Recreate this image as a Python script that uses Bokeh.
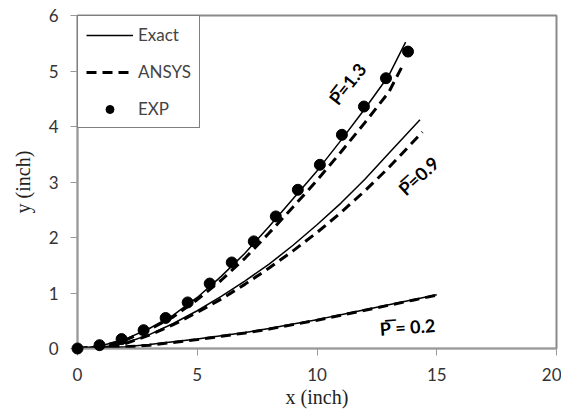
from bokeh.plotting import figure
from bokeh.models import Range1d, FixedTicker, Legend, LegendItem, Label
from bokeh.embed import file_html
from bokeh.resources import INLINE

# Exact solution curves
x_exact_13 = [0, 1, 2, 3, 4, 5, 6, 7, 8, 9, 10, 11, 12, 13, 13.7]
y_exact_13 = [0, 0.05, 0.17, 0.36, 0.6, 0.92, 1.3, 1.72, 2.2, 2.7, 3.2, 3.75, 4.32, 4.92, 5.52]
x_exact_09 = [0, 1, 2, 3, 4, 5, 6, 7, 8, 9, 10, 11, 12, 13, 14.3]
y_exact_09 = [0, 0.02, 0.1, 0.25, 0.45, 0.68, 0.94, 1.22, 1.52, 1.86, 2.23, 2.62, 3.05, 3.52, 4.12]
x_exact_02 = [0, 1, 2, 3, 4, 5, 6, 7, 8, 9, 10, 11, 12, 13, 14, 15]
y_exact_02 = [0, 0.01, 0.03, 0.07, 0.12, 0.17, 0.23, 0.29, 0.36, 0.44, 0.52, 0.61, 0.70, 0.79, 0.88, 0.97]

# ANSYS curves
x_ansys_13 = [0, 1, 2, 3, 4, 5, 6, 7, 8, 9, 10, 11, 12, 13, 13.6]
y_ansys_13 = [0, 0.04, 0.15, 0.34, 0.57, 0.88, 1.23, 1.63, 2.08, 2.55, 3.03, 3.54, 4.07, 4.62, 5.12]
x_ansys_09 = [0, 1, 2, 3, 4, 5, 6, 7, 8, 9, 10, 11, 12, 13, 14.4]
y_ansys_09 = [0, 0.02, 0.09, 0.24, 0.43, 0.65, 0.89, 1.16, 1.45, 1.76, 2.09, 2.45, 2.84, 3.26, 3.9]
x_ansys_02 = [0, 1, 2, 3, 4, 5, 6, 7, 8, 9, 10, 11, 12, 13, 14, 15]
y_ansys_02 = [0, 0.01, 0.03, 0.06, 0.11, 0.16, 0.22, 0.28, 0.35, 0.43, 0.51, 0.6, 0.69, 0.78, 0.87, 0.96]

# Experimental points (P = 1.3)
x_exp = [0, 0.92, 1.84, 2.76, 3.68, 4.6, 5.52, 6.44, 7.36, 8.28, 9.2, 10.12, 11.04, 11.96, 12.88, 13.8]
y_exp = [0, 0.06, 0.17, 0.33, 0.55, 0.83, 1.17, 1.55, 1.93, 2.38, 2.86, 3.31, 3.85, 4.36, 4.87, 5.35]

x_ticks = [0, 5, 10, 15, 20]
y_ticks = [0, 1, 2, 3, 4, 5, 6]

p = figure(width=561, height=410, output_backend="svg", toolbar_location=None,
           x_range=Range1d(0, 20), y_range=Range1d(0, 6),
           min_border_left=77, min_border_right=5, min_border_top=15, min_border_bottom=56)
p.grid.visible = False
p.outline_line_color = "#8a8a8a"
p.outline_line_width = 2

TICK_FONT = "Lato"
for ax in (p.xaxis[0], p.yaxis[0]):
    ax.axis_line_color = "#9a9a9a"
    ax.axis_line_width = 1.5
    ax.major_tick_line_color = "#9a9a9a"
    ax.major_tick_out = 7
    ax.major_tick_in = 0
    ax.minor_tick_line_color = None
    ax.major_label_text_font = TICK_FONT
    ax.major_label_text_font_size = "17px"
    ax.major_label_text_color = "#333333"
    ax.major_label_standoff = 12
    ax.axis_label_text_font = "Liberation Serif"
    ax.axis_label_text_font_size = "20px"
    ax.axis_label_text_font_style = "normal"
    ax.axis_label_text_color = "#222222"

p.xaxis.ticker = FixedTicker(ticks=x_ticks)
p.yaxis.ticker = FixedTicker(ticks=y_ticks)
p.xaxis.axis_label = "x (inch)"
p.yaxis.axis_label = "y (inch)"
p.xaxis.axis_label_standoff = 2
p.yaxis.axis_label_standoff = 12

dash = "10 6"
r_e1 = p.line(x_exact_13, y_exact_13, line_color="black", line_width=1.5)
p.line(x_exact_09, y_exact_09, line_color="black", line_width=1.5)
p.line(x_exact_02, y_exact_02, line_color="black", line_width=1.5)
r_a1 = p.line(x_ansys_13, y_ansys_13, line_color="black", line_width=3, line_dash=dash)
p.line(x_ansys_09, y_ansys_09, line_color="black", line_width=3, line_dash=dash)
p.line(x_ansys_02, y_ansys_02, line_color="black", line_width=3, line_dash=dash)
r_x = p.scatter(x_exp, y_exp, size=11, marker="circle", fill_color="black", line_color="black",
                level="overlay")

legend = Legend(items=[LegendItem(label="Exact", renderers=[r_e1]),
                       LegendItem(label="ANSYS", renderers=[r_a1]),
                       LegendItem(label="EXP", renderers=[r_x])],
                location="top_left", margin=0, padding=8, spacing=16,
                label_height=20, glyph_height=20, glyph_width=47, label_standoff=5,
                label_text_font="Lato", label_text_font_size="17px",
                border_line_color="black", border_line_width=1.2,
                background_fill_alpha=1)
p.add_layout(legend)

lab_font = "Lato"
P = "P\u0305"
for txt, lx, ly, ang in [(P + "=1.3", 11.27, 4.77, 0.9),
                         (P + "=0.9", 14.24, 3.11, 0.74),
                         (P + " = 0.2", 13.78, 0.39, 0.07)]:
    p.add_layout(Label(x=lx, y=ly, text=txt, angle=ang, text_align="center",
                       text_baseline="middle", text_font=lab_font,
                       text_font_size="18px", text_font_style="bold", text_color="black"))

open("out.html", "w").write(file_html(p, INLINE))
